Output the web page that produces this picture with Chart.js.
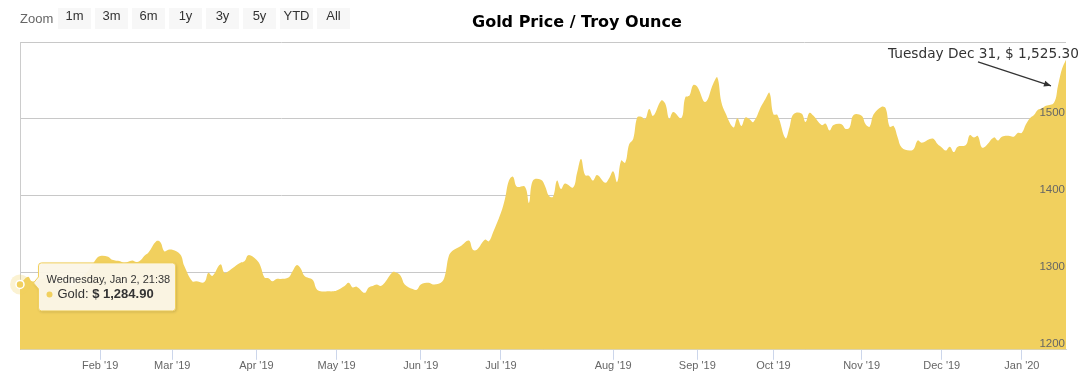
<!DOCTYPE html>
<html>
<head>
<meta charset="utf-8">
<title>Gold Price / Troy Ounce</title>
<script src="https://cdn.jsdelivr.net/npm/chart.js@4.4.1/dist/chart.umd.min.js"></script>
<style>
  html, body { margin: 0; padding: 0; background: #fff; }
  #wrap { position: relative; width: 1087px; height: 382px; overflow: hidden; }
  #chart { position: absolute; left: 0; top: 0; }
  .zoom-label { position: absolute; left: 20px; top: 11px; font: 13px 'Liberation Sans', Arial, sans-serif; color: #666; }
  .rs-btn { position: absolute; top: 8px; width: 33px; height: 21px; line-height: 21px; background: #f7f7f7;
            color: #333; font: 13px 'Liberation Sans', Arial, sans-serif; text-align: center; }
  .title { position: absolute; left: 472px; top: 12px; font: bold 16px 'DejaVu Sans', Verdana, sans-serif; color: #000; white-space: nowrap; }
</style>
</head>
<body>
<div id="wrap">
  <canvas id="chart" width="1087" height="382"></canvas>
  <div class="zoom-label">Zoom</div>
  <div class="title">Gold Price / Troy Ounce</div>
</div>
<script>
/* ═══════════════════════════════════════
   Gold price 2019 — area chart
═══════════════════════════════════════ */

const GOLD = '#f1d05e';

const rangeButtons = ['1m', '3m', '6m', '1y', '3y', '5y', 'YTD', 'All'];

// trading session index (0 = Jan 2 2019) and price
const sessions = [
    0, 2, 3, 5, 7, 9, 11, 13, 15, 17, 19,
    20, 22, 23, 25, 26, 28, 29, 30, 31, 32, 34, 35, 36, 37,
    38, 40, 41, 43, 44, 46, 47, 48, 50, 51, 52, 53, 55, 56, 57,
    59, 60, 61, 62, 63, 64, 65, 67, 68, 69, 70, 71, 73, 74, 75, 77, 78,
    79, 81, 82, 83, 84, 86, 87, 88, 89, 90, 91, 93, 94, 95, 96, 98, 99,
    100, 102, 103, 105, 106, 107, 108, 110, 112, 113, 114, 116, 117, 118,
    120, 121, 122, 123, 124, 126, 127, 128, 130, 131, 132, 133, 134, 135, 136, 138, 139, 140, 141, 142, 143, 144, 146, 147,
    148, 149, 150, 151, 152, 153, 154, 155, 156, 157, 158, 160, 161, 162, 163, 165, 166, 167, 168,
    169, 171, 173, 174, 175, 176, 178, 179, 180, 181, 182, 183, 185, 186, 187,
    188, 189, 191, 192, 193, 195, 196, 197, 198, 200, 201, 202, 203, 205, 206, 207, 208,
    210, 211, 212, 213, 215, 216, 217, 218, 219, 220, 222, 223, 224, 225, 227, 228, 229,
    230, 231, 232, 233, 234, 236, 237, 238, 239, 240, 241, 243, 244, 245, 247, 248, 249,
    250, 251, 252, 253, 254, 255, 256, 258, 259, 260, 261
];
const prices = [
    1285, 1295, 1289, 1291, 1293, 1288, 1290, 1282, 1292, 1302, 1318,
    1322, 1321, 1317, 1315, 1313, 1316, 1314, 1316, 1322, 1326, 1341, 1340, 1328, 1330,
    1330, 1324, 1309, 1289, 1289, 1288, 1300, 1296, 1311, 1300, 1302, 1306, 1313, 1315, 1323,
    1317, 1309, 1294, 1293, 1289, 1292, 1292, 1294, 1302, 1310, 1306, 1296, 1291, 1279, 1276, 1276, 1276,
    1277, 1283, 1287, 1281, 1282, 1274, 1281, 1283, 1285, 1283, 1287, 1301, 1300, 1296, 1285, 1279, 1278,
    1285, 1287, 1285, 1287, 1296, 1322, 1329, 1335, 1342, 1330, 1330, 1343, 1341, 1352,
    1378, 1396, 1420, 1425, 1412, 1412, 1391, 1420, 1421, 1413, 1400, 1399, 1420, 1409, 1416, 1411, 1430, 1448, 1427, 1426, 1420, 1427, 1417, 1423,
    1432, 1418, 1446, 1443, 1467, 1474, 1502, 1503, 1500, 1513, 1504, 1524, 1520, 1500, 1509, 1501, 1528, 1530, 1544,
    1542, 1522, 1546, 1554, 1522, 1508, 1489, 1501, 1491, 1502, 1500, 1496, 1517, 1526, 1534,
    1506, 1505, 1475, 1489, 1506, 1507, 1496, 1508, 1504, 1492, 1494, 1485, 1492, 1493, 1487, 1489, 1505,
    1504, 1493, 1490, 1506, 1516, 1514, 1490, 1491, 1476, 1463, 1459, 1461, 1472, 1469, 1474, 1474, 1467,
    1463, 1459, 1464, 1457, 1464, 1466, 1479, 1476, 1478, 1463, 1465, 1476, 1472, 1477, 1478, 1477, 1482,
    1482, 1493, 1501, 1505, 1512, 1514, 1517, 1521, 1543, 1565, 1577
];

const monthTicks  = [20, 38, 59, 79, 100, 120, 148, 169, 188, 210, 230, 250];
const monthLabels = ["Feb '19", "Mar '19", "Apr '19", "May '19", "Jun '19", "Jul '19",
                     "Aug '19", "Sep '19", "Oct '19", "Nov '19", "Dec '19", "Jan '20"];

const yTicks = [1200, 1300, 1400, 1500, 1600];

const HOVER_SESSION = 0;
const hoverTitle = 'Wednesday, Jan 2, 21:38';
const hoverValue = '$ 1,284.90';

const NOTE_SESSION = 259;
const noteText = 'Tuesday Dec 31, $ 1,525.30';

// range selector buttons
rangeButtons.forEach((b, i) => {
    const el = document.createElement('div');
    el.className = 'rs-btn';
    el.style.left = (58 + i * 37) + 'px';
    el.textContent = b;
    document.getElementById('wrap').appendChild(el);
});

function _pointAt(chart, session) {
    return chart.getDatasetMeta(0).data[sessions.indexOf(session)];
}

// crosshair + hover marker + tooltip box
const hoverPlugin = {
    id: 'hoverTip',
    beforeDatasetsDraw(chart) {
        const { ctx, chartArea } = chart;
        const pt = _pointAt(chart, HOVER_SESSION);
        const x = Math.round(pt.x) + 0.5;
        ctx.save();
        ctx.strokeStyle = '#cccccc';
        ctx.lineWidth = 1;
        ctx.beginPath();
        ctx.moveTo(x, chartArea.top);
        ctx.lineTo(x, chartArea.bottom);
        ctx.stroke();
        ctx.restore();
    },
    afterDraw(chart) {
        const { ctx } = chart;
        const pt = _pointAt(chart, HOVER_SESSION);
        ctx.save();
        // halo
        ctx.fillStyle = 'rgba(241,208,94,0.28)';
        ctx.beginPath();
        ctx.arc(pt.x, pt.y, 10, 0, Math.PI * 2);
        ctx.fill();
        // marker
        ctx.fillStyle = GOLD;
        ctx.strokeStyle = '#ffffff';
        ctx.lineWidth = 1.5;
        ctx.beginPath();
        ctx.arc(pt.x, pt.y, 4, 0, Math.PI * 2);
        ctx.fill();
        ctx.stroke();

        // box
        const bx = pt.x + 18.5, by = pt.y - 21.5, bw = 137, bh = 48, r = 3;
        ctx.shadowColor = 'rgba(0,0,0,0.18)';
        ctx.shadowOffsetX = 1;
        ctx.shadowOffsetY = 1;
        ctx.shadowBlur = 3;
        ctx.beginPath();
        ctx.moveTo(bx + r, by);
        ctx.lineTo(bx + bw - r, by);
        ctx.arcTo(bx + bw, by, bx + bw, by + r, r);
        ctx.lineTo(bx + bw, by + bh - r);
        ctx.arcTo(bx + bw, by + bh, bx + bw - r, by + bh, r);
        ctx.lineTo(bx + r, by + bh);
        ctx.arcTo(bx, by + bh, bx, by + bh - r, r);
        ctx.lineTo(bx, by + 26);
        ctx.lineTo(bx - 5, by + 20);
        ctx.lineTo(bx, by + 14);
        ctx.lineTo(bx, by + r);
        ctx.arcTo(bx, by, bx + r, by, r);
        ctx.closePath();
        ctx.fillStyle = 'rgba(252,247,232,0.96)';
        ctx.fill();
        ctx.shadowColor = 'transparent';
        ctx.strokeStyle = GOLD;
        ctx.lineWidth = 1;
        ctx.stroke();

        // texts
        ctx.textBaseline = 'middle';
        ctx.textAlign = 'left';
        ctx.fillStyle = '#333';
        ctx.font = "11px 'Liberation Sans', Arial, sans-serif";
        ctx.fillText(hoverTitle, bx + 8, pt.y - 4);

        ctx.fillStyle = GOLD;
        ctx.beginPath();
        ctx.arc(bx + 11, pt.y + 10, 3, 0, Math.PI * 2);
        ctx.fill();

        ctx.fillStyle = '#333';
        ctx.font = "13px 'Liberation Sans', Arial, sans-serif";
        const lbl = 'Gold: ';
        ctx.fillText(lbl, bx + 19, pt.y + 10);
        const w = ctx.measureText(lbl).width;
        ctx.font = "bold 13px 'Liberation Sans', Arial, sans-serif";
        ctx.fillText(hoverValue, bx + 19 + w, pt.y + 10);
        ctx.restore();
    }
};

// annotation with arrow
const notePlugin = {
    id: 'note',
    afterDatasetsDraw(chart) {
        const { ctx } = chart;
        const pt = _pointAt(chart, NOTE_SESSION);
        const tip = { x: pt.x - 7, y: pt.y };
        const start = { x: tip.x - 73, y: tip.y - 24 };
        ctx.save();
        ctx.strokeStyle = '#333';
        ctx.fillStyle = '#333';
        ctx.lineWidth = 1.2;
        ctx.beginPath();
        ctx.moveTo(start.x, start.y);
        ctx.lineTo(tip.x, tip.y);
        ctx.stroke();
        const a = Math.atan2(tip.y - start.y, tip.x - start.x);
        ctx.beginPath();
        ctx.moveTo(tip.x, tip.y);
        ctx.lineTo(tip.x - 7 * Math.cos(a) + 3 * Math.sin(a), tip.y - 7 * Math.sin(a) - 3 * Math.cos(a));
        ctx.lineTo(tip.x - 7 * Math.cos(a) - 3 * Math.sin(a), tip.y - 7 * Math.sin(a) + 3 * Math.cos(a));
        ctx.closePath();
        ctx.fill();

        ctx.font = "13.7px 'DejaVu Sans', Verdana, sans-serif";
        ctx.textAlign = 'left';
        ctx.textBaseline = 'alphabetic';
        ctx.fillText(noteText, tip.x - 163, tip.y - 28);
        ctx.restore();
    }
};

const ctx = document.getElementById('chart').getContext('2d');

new Chart(ctx, {
    type: 'line',
    data: {
        datasets: [{
            label: 'Gold',
            data: sessions.map((s, i) => ({ x: s, y: prices[i] })),
            fill: 'start',
            backgroundColor: GOLD,
            borderColor: GOLD,
            borderWidth: 0,
            pointRadius: 0,
            tension: 0.4,
        }]
    },
    options: {
        responsive: false,
        animation: false,
        events: [],
        devicePixelRatio: 1,
        layout: { padding: { left: 20, right: 21, top: 42, bottom: 9 } },
        plugins: {
            legend: { display: false },
            tooltip: { enabled: false },
        },
        scales: {
            x: {
                type: 'linear',
                min: 0,
                max: 261,
                afterBuildTicks: axis => { axis.ticks = monthTicks.map(v => ({ value: v })); },
                ticks: {
                    autoSkip: false,
                    maxRotation: 0,
                    padding: 0,
                    color: '#666',
                    font: { family: "'Liberation Sans', Arial, sans-serif", size: 11 },
                    callback: v => monthLabels[monthTicks.indexOf(v)] ?? '',
                },
                grid: { drawOnChartArea: false, drawTicks: true, tickLength: 10, color: '#ccd6eb' },
                border: { color: '#ccd6eb' },
            },
            y: {
                position: 'right',
                min: 1200,
                max: 1600,
                afterBuildTicks: axis => { axis.ticks = yTicks.map(v => ({ value: v })); },
                ticks: {
                    mirror: true,
                    padding: -1,
                    labelOffset: -6,
                    z: 1,
                    color: '#666',
                    font: { family: "'Liberation Sans', Arial, sans-serif", size: 11.5 },
                    callback: v => v === 1600 ? '' : v,
                },
                grid: { color: '#c8c8c8', drawTicks: false },
                border: { display: false },
            }
        }
    },
    plugins: [hoverPlugin, notePlugin]
});
</script>
</body>
</html>
